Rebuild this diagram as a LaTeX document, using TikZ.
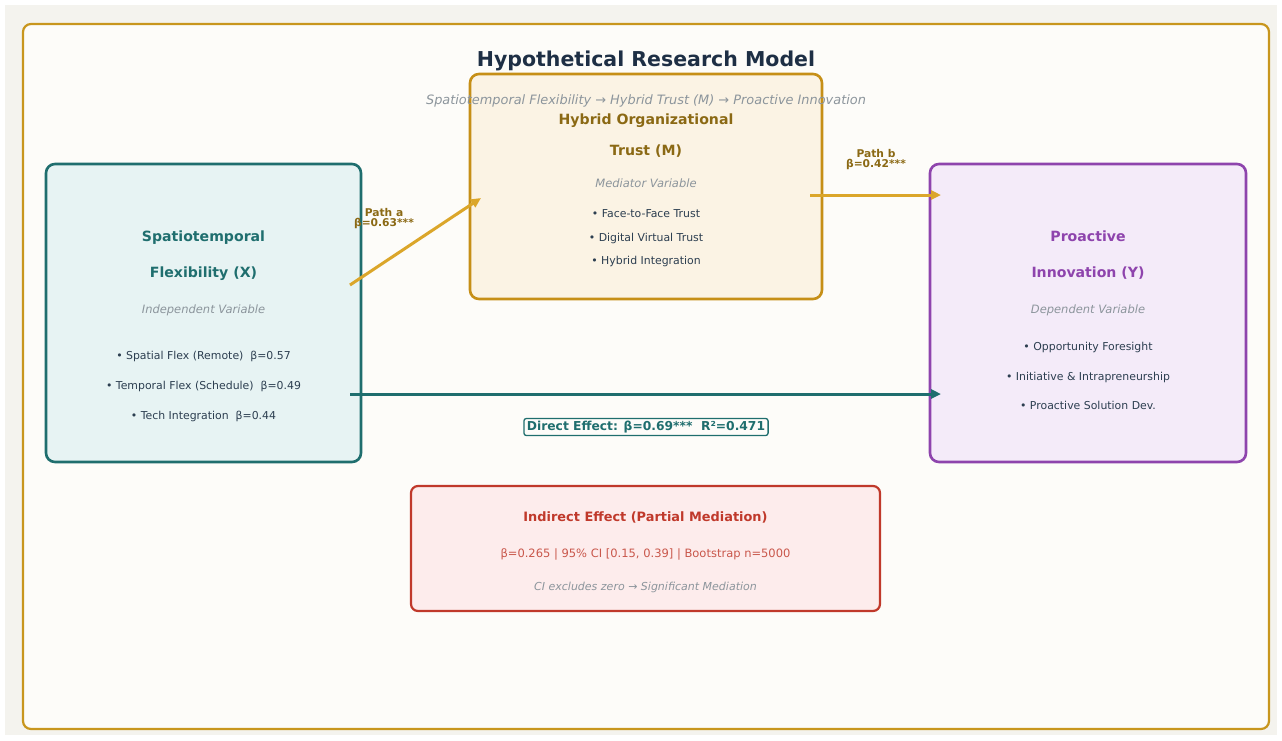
\documentclass[tikz,border=0pt]{standalone}
\usepackage{fontspec}
\setmainfont{DejaVu Sans}
\usetikzlibrary{arrows.meta}
\definecolor{bgout}{HTML}{F4F3EE}
\definecolor{bgin}{HTML}{FDFCF9}
\definecolor{framegold}{HTML}{C8961E}
\definecolor{titlenavy}{HTML}{1E2F45}
\definecolor{subgrey}{HTML}{8C959C}
\definecolor{tealc}{HTML}{1F6E6E}
\definecolor{tealfill}{HTML}{E7F3F3}
\definecolor{goldc}{HTML}{C68F17}
\definecolor{goldfill}{HTML}{FBF3E4}
\definecolor{goldtext}{HTML}{8B6914}
\definecolor{arrowgold}{HTML}{DBA62A}
\definecolor{purplec}{HTML}{8E44AD}
\definecolor{purplefill}{HTML}{F4EBF9}
\definecolor{redc}{HTML}{C0392B}
\definecolor{redfill}{HTML}{FDECEC}
\definecolor{bullettext}{HTML}{2C3E50}
\tikzset{
  box/.style={draw, line width=2.6pt, rounded corners=9pt, inner sep=0pt},
  txt/.style={inner sep=0pt, text depth=0pt},
  head/.style={txt, font=\fontsize{14.1}{16}\selectfont\bfseries},
  role/.style={txt, font=\fontsize{11.5}{13}\selectfont\itshape, text=subgrey},
  bul/.style={txt, font=\fontsize{10.9}{12}\selectfont, text=bullettext},
  plabel/.style={inner sep=0pt, font=\fontsize{10.7}{11.5}\selectfont\bfseries, text=goldtext, align=center},
  conn/.style={line width=3pt, -{Triangle[length=10pt,width=9pt]}},
}
\begin{document}
\begin{tikzpicture}[x=1pt,y=-1pt]
\useasboundingbox (0,0) rectangle (1282,740);
\fill[white] (0,0) rectangle (1282,740);
\fill[bgout] (5,5) rectangle (1277,735);
\draw[framegold, line width=2.2pt, rounded corners=8pt, fill=bgin] (23,24) rectangle (1269,729);

% boxes
\node[box, draw=tealc, fill=tealfill, minimum width=315pt, minimum height=298pt] (X) at (203.5,313) {};
\node[box, draw=goldc, fill=goldfill, minimum width=352pt, minimum height=225pt] (M) at (646,186.5) {};
\node[box, draw=purplec, fill=purplefill, minimum width=316pt, minimum height=298pt] (Y) at (1088,313) {};
\node[box, draw=redc, fill=redfill, line width=2.2pt, rounded corners=7pt, minimum width=469pt, minimum height=125pt] (I) at (645.5,548.5) {};

% title
\node[txt, font=\fontsize{20.5}{24}\selectfont\bfseries, text=titlenavy] (title) at (646,59) {Hypothetical Research Model};
\node[txt, font=\fontsize{12.9}{14}\selectfont\itshape, text=subgrey] (subtitle) at (646,100) {Spatiotemporal Flexibility → Hybrid Trust (M) → Proactive Innovation};

% X box text
\node[head, text=tealc] (x1) at (203.5,236) {Spatiotemporal};
\node[head, text=tealc] (x2) at (203.5,272) {Flexibility (X)};
\node[role] (x3) at (203.5,309) {Independent Variable};
\node[bul] (x4) at (203.5,355) {• Spatial Flex (Remote)~~β=0.57};
\node[bul] (x5) at (203.5,385) {• Temporal Flex (Schedule)~~β=0.49};
\node[bul] (x6) at (203.5,415) {• Tech Integration~~β=0.44};

% M box text
\node[head, text=goldtext] (m1) at (646,119) {Hybrid Organizational};
\node[head, text=goldtext] (m2) at (646,150) {Trust (M)};
\node[role] (m3) at (646,183) {Mediator Variable};
\node[bul] (m4) at (646,214) {• Face-to-Face Trust};
\node[bul] (m5) at (646,237) {• Digital Virtual Trust};
\node[bul] (m6) at (646,260) {• Hybrid Integration};

% Y box text
\node[head, text=purplec] (y1) at (1088,236) {Proactive};
\node[head, text=purplec] (y2) at (1088,272) {Innovation (Y)};
\node[role] (y3) at (1088,309) {Dependent Variable};
\node[bul] (y4) at (1088,346) {• Opportunity Foresight};
\node[bul] (y5) at (1088,376) {• Initiative \& Intrapreneurship};
\node[bul] (y6) at (1088,405) {• Proactive Solution Dev.};

% indirect text
\node[txt, font=\fontsize{12.9}{14}\selectfont\bfseries, text=redc] (i1) at (645.5,517) {Indirect Effect (Partial Mediation)};
\node[txt, font=\fontsize{11.5}{13}\selectfont, text=redc!85] (i2) at (645.5,553) {β=0.265 | 95\% CI [0.15, 0.39] | Bootstrap n=5000};
\node[txt, font=\fontsize{11}{12}\selectfont\itshape, text=subgrey] (i3) at (645.5,586) {CI excludes zero → Significant Mediation};

% connectors
\coordinate (aS) at (350,285);
\coordinate (aE) at (481,198);
\coordinate (bS) at (810,195);
\coordinate (bE) at (941,195);
\coordinate (cS) at (350,394);
\coordinate (cE) at (941,394);
\draw[conn, arrowgold] (aS) -- (aE);
\draw[conn, arrowgold] (bS) -- (bE);
\draw[conn, tealc] (cS) -- (cE);

\node[plabel] (la) at (384,219) {Path a\\[-1.5pt]β=0.63***};
\node[plabel] (lb) at (876,160) {Path b\\[-1.5pt]β=0.42***};
\node[draw=tealc, line width=1.3pt, rounded corners=2.5pt, fill=bgin, inner xsep=3pt, inner ysep=2.5pt, font=\fontsize{12.3}{14}\selectfont\bfseries, text=tealc] (ld) at (646,427) {Direct Effect: β=0.69***~~R²=0.471};
\end{tikzpicture}
\end{document}
